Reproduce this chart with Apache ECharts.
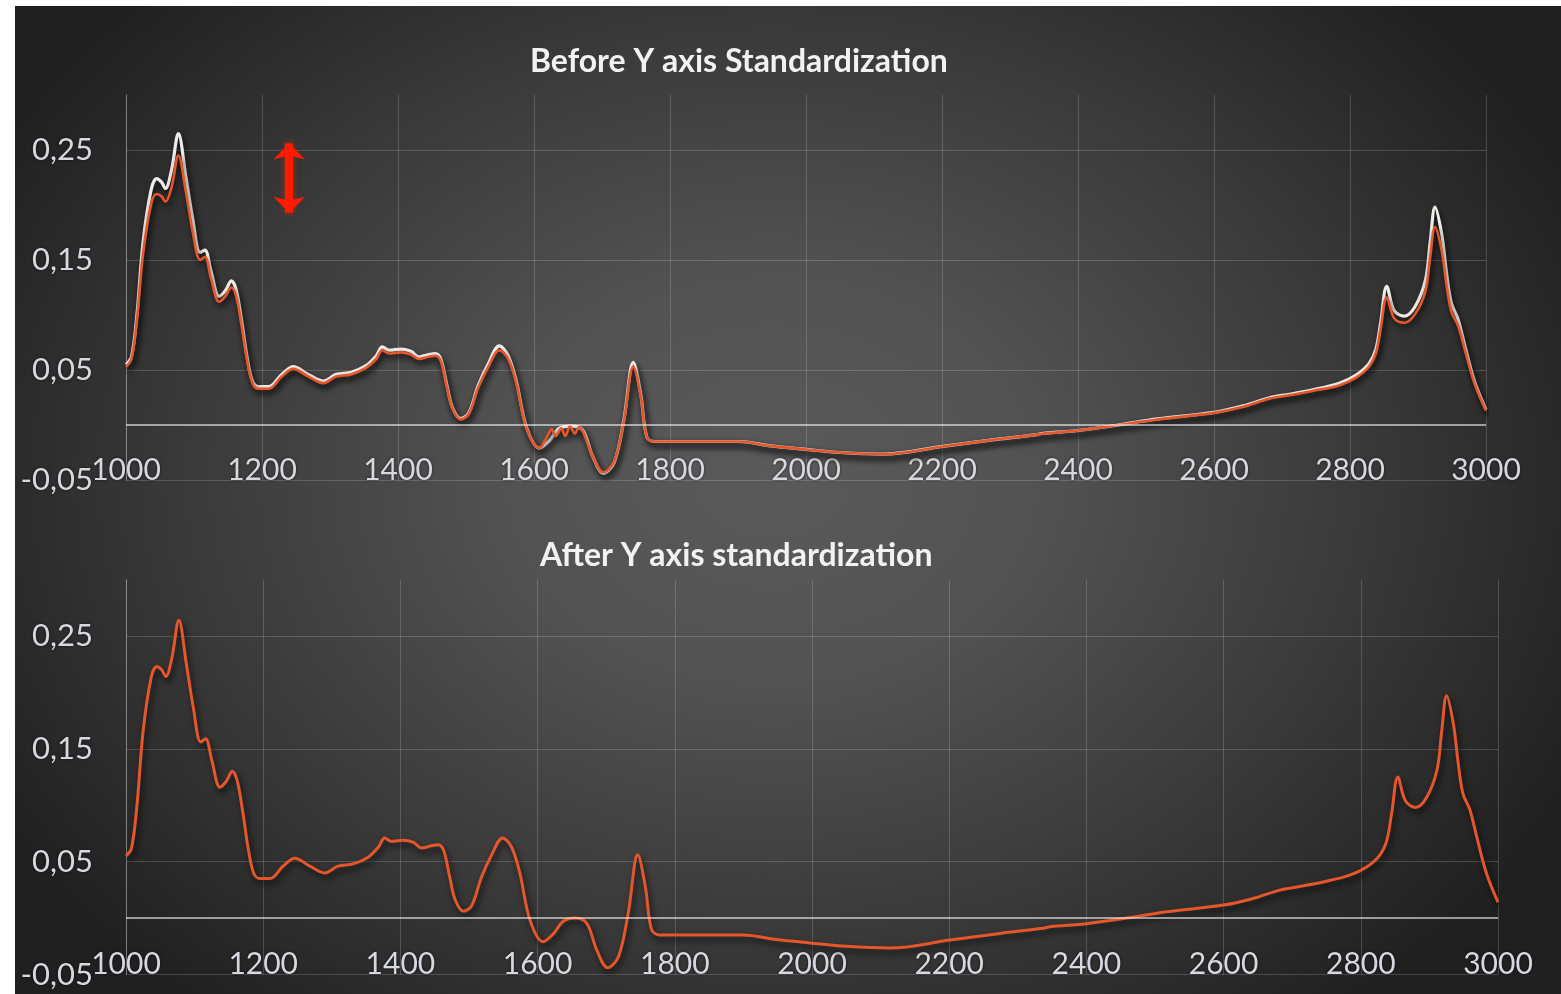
<!DOCTYPE html>
<html>
<head>
<meta charset="utf-8">
<title>Y axis standardization</title>
<script src="https://cdn.jsdelivr.net/npm/echarts@6/dist/echarts.min.js"></script>
<style>
  html, body { margin: 0; padding: 0; background: #ffffff; }
  #panel {
    position: absolute; left: 15px; top: 6px; width: 1546px; height: 988px;
    background: radial-gradient(ellipse 58% 70% at 49% 48%, #5a5a5a 0%, #525252 30%, #3a3a3a 65%, #272727 90%, #202020 100%);
  }
  #chart { position: absolute; left: 0; top: 0; width: 1561px; height: 994px; }
</style>
</head>
<body>
<div id="panel"></div>
<div id="chart"></div>
<script>
// Reference spectrum (white trace, upper panel)
const wnRef = [1000,1008,1016,1025,1037,1045,1052,1058,1067,1077,1088,1098,1109,1116,1125,1137,1146,1155,1162,1170,1178,1186,1195,1210,1229,1246,1268,1290,1309,1331,1353,1368,1377,1387,1404,1419,1431,1445,1455,1463,1472,1480,1492,1504,1518,1533,1549,1562,1574,1589,1608,1623,1637,1655,1672,1686,1702,1718,1732,1746,1757,1766,1778,1900,1948,1997,2050,2114,2201,2274,2337,2347,2400,2459,2517,2600,2643,2682,2711,2745,2784,2809,2828,2838,2845,2854,2865,2880,2896,2911,2918,2925,2935,2942,2949,2959,2969,2983,3000];
const absRef = [0.055,0.062,0.100,0.166,0.214,0.224,0.221,0.215,0.232,0.265,0.226,0.188,0.157,0.159,0.140,0.117,0.122,0.131,0.123,0.095,0.062,0.040,0.035,0.035,0.046,0.053,0.046,0.040,0.046,0.048,0.054,0.063,0.071,0.068,0.069,0.067,0.062,0.064,0.065,0.060,0.036,0.016,0.006,0.011,0.036,0.056,0.072,0.063,0.040,-0.002,-0.021,-0.014,-0.003,-0.001,-0.005,-0.028,-0.044,-0.034,0.004,0.057,0.028,-0.011,-0.015,-0.015,-0.019,-0.022,-0.025,-0.0265,-0.0195,-0.0136,-0.009,-0.0077,-0.005,0.000,0.0056,0.0115,0.0174,0.0248,0.028,0.032,0.038,0.0454,0.056,0.069,0.093,0.126,0.104,0.099,0.108,0.132,0.167,0.198,0.173,0.138,0.111,0.096,0.072,0.040,0.014];

// Sample spectrum before standardization (orange trace, upper panel)
const wnBefore = [1000,1008,1016,1025,1037,1045,1052,1058,1067,1077,1088,1098,1109,1116,1125,1137,1146,1155,1162,1170,1178,1186,1195,1210,1229,1246,1268,1290,1309,1331,1353,1368,1377,1387,1404,1419,1431,1445,1455,1463,1472,1480,1492,1504,1518,1533,1549,1562,1574,1589,1608,1618,1626,1632,1640,1646,1653,1660,1666,1672,1686,1702,1718,1732,1746,1757,1766,1778,1900,1948,1997,2050,2114,2201,2274,2337,2347,2400,2459,2517,2600,2643,2682,2711,2745,2784,2809,2828,2838,2845,2854,2865,2880,2896,2911,2918,2925,2935,2942,2949,2959,2969,2983,3000];
const absBefore = [0.053,0.060,0.095,0.155,0.201,0.210,0.208,0.203,0.216,0.245,0.212,0.176,0.150,0.153,0.133,0.112,0.117,0.125,0.117,0.090,0.059,0.038,0.033,0.033,0.044,0.051,0.044,0.038,0.044,0.046,0.052,0.060,0.068,0.065,0.066,0.064,0.060,0.062,0.063,0.058,0.034,0.015,0.005,0.010,0.034,0.053,0.068,0.060,0.038,-0.003,-0.021,-0.012,-0.004,-0.010,-0.003,-0.010,-0.001,-0.008,-0.002,-0.006,-0.028,-0.043,-0.033,0.003,0.053,0.026,-0.011,-0.015,-0.015,-0.019,-0.022,-0.025,-0.0265,-0.0195,-0.0135,-0.009,-0.008,-0.005,0.000,0.005,0.011,0.0165,0.024,0.027,0.031,0.036,0.043,0.053,0.065,0.087,0.116,0.097,0.093,0.101,0.122,0.153,0.180,0.158,0.127,0.103,0.090,0.068,0.038,0.013];

// Sample spectrum after standardization (lower panel)
const wnAfter = wnRef;
const absAfter = [0.055,0.062,0.100,0.166,0.214,0.223,0.220,0.214,0.231,0.264,0.225,0.187,0.156,0.159,0.140,0.116,0.121,0.130,0.122,0.095,0.062,0.040,0.035,0.035,0.046,0.053,0.046,0.040,0.046,0.048,0.054,0.063,0.071,0.068,0.069,0.067,0.062,0.064,0.065,0.060,0.036,0.016,0.006,0.011,0.036,0.056,0.071,0.063,0.040,-0.002,-0.021,-0.014,-0.003,0.000,-0.005,-0.028,-0.044,-0.034,0.004,0.056,0.028,-0.010,-0.015,-0.015,-0.019,-0.022,-0.025,-0.0265,-0.0195,-0.0136,-0.009,-0.0077,-0.005,0.000,0.0056,0.0115,0.0174,0.0248,0.028,0.032,0.038,0.0454,0.056,0.069,0.093,0.125,0.104,0.098,0.107,0.131,0.166,0.197,0.172,0.137,0.110,0.096,0.072,0.040,0.014];

// Axis settings
const xMin = 1000, xMax = 3000, xStep = 200;
const yMin = -0.05, yMax = 0.30, yStep = 0.1;

// Double arrow marking the vertical offset (wavenumber, top, bottom)
const arrowAt = [1240, 0.256, 0.193];

const titles = ['Before Y axis Standardization', 'After Y axis standardization'];

const zip = (xs, ys) => xs.map((x, i) => [x, ys[i]]);

const FONT = 'Lato, "Open Sans", sans-serif';
const labelColor = '#d5d9df';
const gridColor = 'rgba(255,255,255,0.17)';
const orange = '#e5562b';

function xAxisFor(gridIndex) {
  return {
    type: 'value', gridIndex, min: xMin, max: xMax, interval: xStep,
    axisLine: { show: false }, axisTick: { show: false },
    axisLabel: { color: labelColor, fontFamily: FONT, fontSize: 30, margin: -25,
                 formatter: v => String(v),
                 textShadowColor: 'rgba(0,0,0,0.6)', textShadowBlur: 3 },
    splitLine: { show: true, lineStyle: { color: gridColor, width: 1 } }
  };
}
function yAxisFor(gridIndex) {
  return {
    type: 'value', gridIndex, min: yMin, max: yMax, interval: yStep,
    axisLine: { show: true, lineStyle: { color: 'rgba(255,255,255,0.3)', width: 1 } },
    axisTick: { show: false },
    axisLabel: { color: labelColor, fontFamily: FONT, fontSize: 31, margin: 33,
                 showMaxLabel: false,
                 textShadowColor: 'rgba(0,0,0,0.6)', textShadowBlur: 3,
                 formatter: v => v.toFixed(2).replace('.', ',') },
    splitLine: { show: true, showMaxLine: false, lineStyle: { color: gridColor, width: 1 } }
  };
}

const lineShadow = { shadowColor: 'rgba(0,0,0,0.75)', shadowBlur: 6, shadowOffsetX: 2, shadowOffsetY: 4 };
const zeroLine = {
  silent: true, symbol: 'none', label: { show: false },
  lineStyle: { color: 'rgba(255,255,255,0.55)', width: 2, type: 'solid' },
  data: [{ yAxis: 0 }]
};

const chart = echarts.init(document.getElementById('chart'), null, { renderer: 'canvas' });
chart.setOption({
  backgroundColor: 'transparent',
  animation: false,
  title: [
    { text: titles[0], left: 530, top: 46, padding: 0,
      textStyle: { color: '#f2f2f2', fontFamily: FONT, fontWeight: 'bold', fontSize: 32 } },
    { text: titles[1], left: 540, top: 540, padding: 0,
      textStyle: { color: '#f2f2f2', fontFamily: FONT, fontWeight: 'bold', fontSize: 32 } }
  ],
  grid: [
    { left: 126, right: 75, top: 95, height: 385 },
    { left: 126, right: 63, top: 579.5, height: 395 }
  ],
  xAxis: [xAxisFor(0), xAxisFor(1)],
  yAxis: [yAxisFor(0), yAxisFor(1)],
  series: [
    {
      name: 'Zero', type: 'line', xAxisIndex: 0, yAxisIndex: 0, data: [], z: 1,
      markLine: zeroLine
    },
    {
      name: 'Zero', type: 'line', xAxisIndex: 1, yAxisIndex: 1, data: [], z: 1,
      markLine: zeroLine
    },
    {
      name: 'Reference', type: 'line', xAxisIndex: 0, yAxisIndex: 0,
      data: zip(wnRef, absRef), smooth: 0.35, showSymbol: false, z: 3,
      lineStyle: Object.assign({ color: '#f0ece8', width: 3.2 }, lineShadow)
    },
    {
      name: 'Before', type: 'line', xAxisIndex: 0, yAxisIndex: 0,
      data: zip(wnBefore, absBefore), smooth: 0.35, showSymbol: false, z: 4,
      lineStyle: Object.assign({ color: orange, width: 2.6 }, lineShadow),
      markLine: {
        silent: true, symbol: ['arrow', 'arrow'], symbolSize: [24, 16],
        label: { show: false },
        lineStyle: { color: '#ff1a00', width: 8, type: 'solid', opacity: 1,
                     shadowColor: 'rgba(255,40,0,0.6)', shadowBlur: 6 },
        data: [[{ coord: [arrowAt[0], arrowAt[1]] }, { coord: [arrowAt[0], arrowAt[2]] }]]
      }
    },
    {
      name: 'After', type: 'line', xAxisIndex: 1, yAxisIndex: 1,
      data: zip(wnAfter, absAfter), smooth: 0.35, showSymbol: false, z: 4,
      lineStyle: Object.assign({ color: orange, width: 3 }, lineShadow)
    }
  ]
});
</script>
</body>
</html>
